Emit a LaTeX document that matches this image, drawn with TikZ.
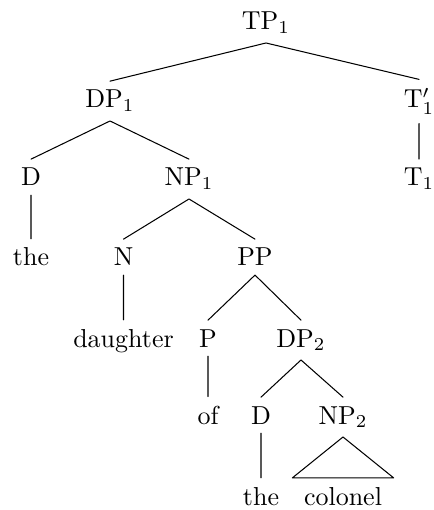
\documentclass[tikz,border=0pt]{standalone}
\usepackage{amsfonts,amsmath,amssymb}
\usepackage{tikz}
\usetikzlibrary{arrows.meta}
\tikzset{
  every picture/.style={line join=round, line cap=round, >=Stealth},
  lbl/.style={anchor=base, inner sep=3.3pt},
}
\begin{document}
\begin{tikzpicture}[x=0.385pt,y=-0.385pt]
\useasboundingbox(0,0)rectangle(433,510);
\draw(266,30)node[lbl](tp1){$\mathrm{TP}_1$}
(110,108)node[lbl](dp1){$\mathrm{DP}_1$}
(419,108)node[lbl](tbar){$\mathrm{T}_1'$}
(31,186)node[lbl](d1){$\mathrm{D}$}
(189,186)node[lbl](np1){$\mathrm{NP}_1$}
(419,186)node[lbl](t1){$\mathrm{T}_1$}
(31,266)node[lbl](the1){the}
(123.5,266)node[lbl](n){$\mathrm{N}$}
(255,266)node[lbl](pp){$\mathrm{PP}$}
(123.5,347)node[lbl](daughter){daughter}
(208,347)node[lbl](p){$\mathrm{P}$}
(301,347)node[lbl](dp2){$\mathrm{DP}_2$}
(208,424)node[lbl](of){of}
(261,424)node[lbl](d2){$\mathrm{D}$}
(343,424)node[lbl](np2){$\mathrm{NP}_2$}
(261,505)node[lbl](the2){the}
(343,505)node[lbl](colonel){colonel};
\draw(tp1.south)--(dp1.north) (tp1.south)--(tbar.north) (tbar.south)--(t1.north);
\draw(dp1.south)--(d1.north) (dp1.south)--(np1.north) (d1.south)--(the1.north);
\draw(np1.south)--(n.north) (np1.south)--(pp.north) (n.south)--(daughter.north);
\draw(pp.south)--(p.north) (pp.south)--(dp2.north) (p.south)--(of.north);
\draw(dp2.south)--(d2.north) (dp2.south)--(np2.north) (d2.south)--(the2.north);
\draw(np2.south)--([xshift=-1pt]colonel.north west)--([xshift=1pt]colonel.north east)--cycle;
\end{tikzpicture}
\end{document}
